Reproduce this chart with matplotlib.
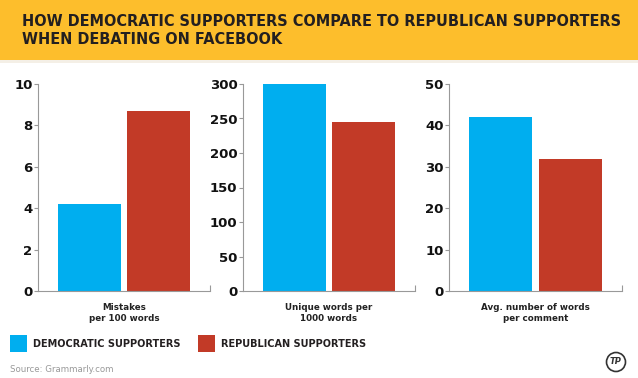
import matplotlib
matplotlib.use('Agg')
import matplotlib.pyplot as plt
from matplotlib.patches import Rectangle, Ellipse

# data
groups = ['DEMOCRATIC SUPPORTERS', 'REPUBLICAN SUPPORTERS']
colors = ['#00AEEF', '#C23A27']
metrics = ['Mistakes\nper 100 words', 'Unique words per\n1000 words', 'Avg. number of words\nper comment']
dem_values = [4.2, 300, 42]
rep_values = [8.7, 245, 32]
y_max = [10, 300, 50]
y_ticks = [[0, 2, 4, 6, 8, 10], [0, 50, 100, 150, 200, 250, 300], [0, 10, 20, 30, 40, 50]]

W, H = 638, 378
fig = plt.figure(figsize=(W / 100, H / 100), dpi=100)
fig.patch.set_facecolor('#FFFFFF')


def px(x0, y0, x1, y1):
    # pixel box (top-left origin) -> figure fraction rect
    return [x0 / W, 1 - y1 / H, (x1 - x0) / W, (y1 - y0) / H]


# yellow banner
fig.patches.append(Rectangle((0, 1 - 60 / H), 1, 60 / H, transform=fig.transFigure,
                             facecolor='#FDBE2C', edgecolor='none', zorder=0))
fig.patches.append(Rectangle((0, 1 - 63 / H), 1, 3 / H, transform=fig.transFigure,
                             facecolor='#F4EFE6', edgecolor='none', zorder=0))
fig.text(22 / W, 1 - 31 / H, 'HOW DEMOCRATIC SUPPORTERS COMPARE TO REPUBLICAN SUPPORTERS\nWHEN DEBATING ON FACEBOOK',
         fontsize=10.45, fontweight='bold', color='#231F20', ha='left', va='center',
         linespacing=1.25, family='DejaVu Sans')

boxes = [(38, 84, 210, 291), (243, 84, 415, 291), (449, 84, 622, 291)]
for i, box in enumerate(boxes):
    ax = fig.add_axes(px(*box))
    ax.set_facecolor('none')
    ax.bar([0, 1], [dem_values[i], rep_values[i]], width=0.9, color=colors, zorder=2)
    ax.set_xlim(-0.74, 1.74)
    ax.set_ylim(0, y_max[i])
    ax.set_yticks(y_ticks[i])
    ax.set_yticklabels([str(t) for t in y_ticks[i]], fontsize=9.5, fontweight='bold',
                       color='#111111', family='DejaVu Sans')
    ax.tick_params(axis='y', length=3, width=0.8, color='#999999', pad=1)
    ax.set_xticks([1.74])
    ax.set_xticklabels([''])
    ax.tick_params(axis='x', direction='in', length=4, width=0.8, color='#999999')
    for s in ['top', 'right']:
        ax.spines[s].set_visible(False)
    for s in ['left', 'bottom']:
        ax.spines[s].set_color('#999999')
        ax.spines[s].set_linewidth(0.8)
    cx = (box[0] + box[2]) / 2
    fig.text(cx / W, 1 - 313 / H, metrics[i], fontsize=6.3, fontweight='bold',
             color='#222222', ha='center', va='center', linespacing=1.35, family='Liberation Sans Narrow')

# legend
leg_x = [10, 198]
for i, g in enumerate(groups):
    fig.patches.append(Rectangle((leg_x[i] / W, 1 - 352 / H), 17 / W, 17 / H, transform=fig.transFigure,
                                 facecolor=colors[i], edgecolor='none'))
    fig.text((leg_x[i] + 23) / W, 1 - 344 / H, g, fontsize=7.0, fontweight='bold', color='#231F20',
             ha='left', va='center', family='DejaVu Sans')

fig.text(10 / W, 1 - 369 / H, 'Source: Grammarly.com', fontsize=6.2, color='#999999',
         ha='left', va='center', family='DejaVu Sans')

# little logo bottom right
fig.patches.append(Ellipse((616 / W, 1 - 362 / H), 19 / W, 19 / H, transform=fig.transFigure,
                           facecolor='white', edgecolor='#333333', linewidth=1.2))
fig.text(616 / W, 1 - 362 / H, 'TP', fontsize=6, fontweight='bold', style='italic',
         color='#333333', ha='center', va='center')

fig.savefig('out.png', dpi=100)
